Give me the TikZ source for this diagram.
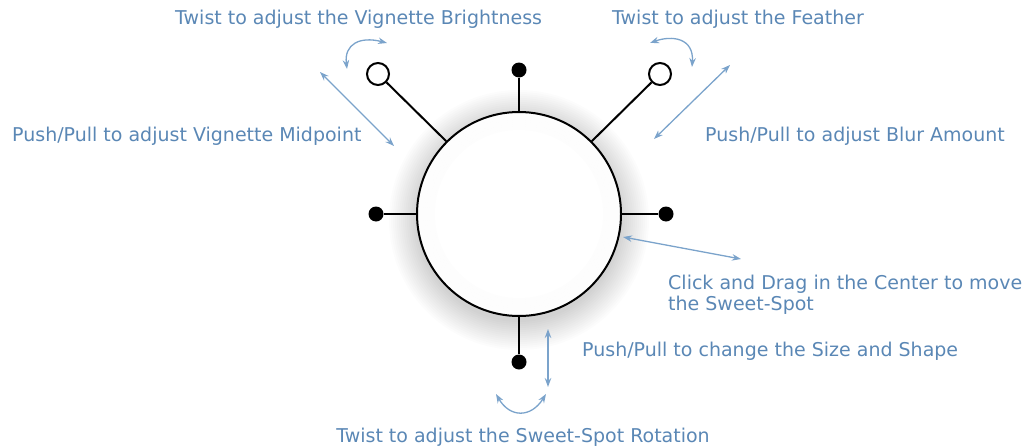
\documentclass[tikz,border=0pt]{standalone}
\usepackage{fontspec}
\setmainfont{DejaVu Sans}
\usetikzlibrary{arrows.meta}
\definecolor{txtblue}{HTML}{5A87B5}
\definecolor{arrblue}{HTML}{7BA3CB}
\begin{document}
\begin{tikzpicture}[x=1pt,y=-1pt,
  lbl/.style={text=txtblue,font=\fontsize{19}{21}\selectfont,inner sep=0pt},
  hint/.style={draw=arrblue,line width=1.3pt,{Stealth[length=9pt,width=6.5pt]}-{Stealth[length=9pt,width=6.5pt]}},
  knob/.style={circle,fill=black,minimum size=15pt,inner sep=0pt},
  ring/.style={circle,draw=black,line width=2pt,fill=white,minimum size=22pt,inner sep=0pt},
  stem/.style={line width=2pt,draw=black}]
\useasboundingbox (0,0) rectangle (1027,447);
% soft shadow
\foreach \r in {102,104,...,130}{
  \fill[black,opacity=0.011] (519,220) circle (\r);
}
\node[circle,draw=black,line width=2pt,fill=white,minimum size=204pt,inner sep=0pt] (dial) at (519,214) {};
% faint inner shading near the rim
\foreach \r in {101,99,...,85}{
  \draw[black,opacity=0.008,line width=2pt] (dial.center) circle (\r);
}
% handles
\node[knob] (ktop) at (519,70) {};
\node[knob] (kleft) at (376,214) {};
\node[knob] (kright) at (666,214) {};
\node[knob] (kbot) at (519,362) {};
\node[ring] (rul) at (378,74) {};
\node[ring] (rur) at (660,74) {};
\draw[stem] (dial.90) -- (ktop);
\draw[stem] (dial.180) -- (kleft);
\draw[stem] (dial.0) -- (kright);
\draw[stem] (dial.270) -- (kbot);
\draw[stem] (dial.135) -- (rul);
\draw[stem] (dial.45) -- (rur);
% hint arrows
\coordinate (a1) at (347,69); \coordinate (a2) at (387,43);
\draw[hint] (a1) .. controls (344,44) and (360,36) .. (a2);
\coordinate (b1) at (320,72); \coordinate (b2) at (394,146);
\draw[hint] (b1) -- (b2);
\coordinate (c1) at (650,43); \coordinate (c2) at (692,67);
\draw[hint] (c1) .. controls (672,35) and (694,38) .. (c2);
\coordinate (d1) at (730,65); \coordinate (d2) at (654,139);
\draw[hint] (d1) -- (d2);
\coordinate (e1) at (623,237); \coordinate (e2) at (741,259);
\draw[hint] (e1) -- (e2);
\coordinate (f1) at (548,329); \coordinate (f2) at (548,387);
\draw[hint] (f1) -- (f2);
\coordinate (g1) at (496,394); \coordinate (g2) at (546,394);
\draw[hint] (g1) .. controls (510,418) and (531,418) .. (g2);
% labels
\node[lbl,anchor=west] (t1) at (175,19) {Twist to adjust the Vignette Brightness};
\node[lbl,anchor=west] (t2) at (612,19) {Twist to adjust the Feather};
\node[lbl,anchor=west] (t3) at (12,136) {Push/Pull to adjust Vignette Midpoint};
\node[lbl,anchor=west] (t4) at (705,136) {Push/Pull to adjust Blur Amount};
\node[lbl,anchor=north west,align=left,font=\fontsize{19}{21}\selectfont] (t5) at (668,275) {Click and Drag in the Center to move\\the Sweet-Spot};
\node[lbl,anchor=west] (t6) at (582,351) {Push/Pull to change the Size and Shape};
\node[lbl] (t7) at (523,437) {Twist to adjust the Sweet-Spot Rotation};
\end{tikzpicture}
\end{document}
